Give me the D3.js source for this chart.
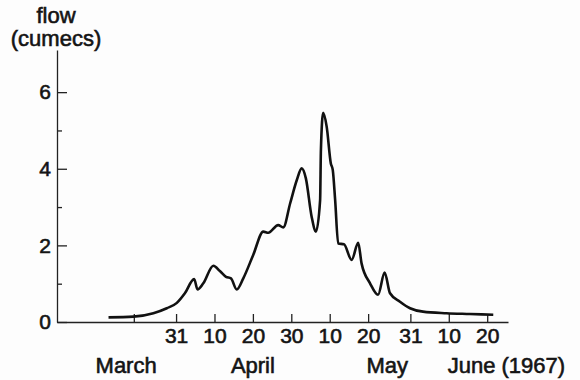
<!DOCTYPE html>
<html>
<head>
<meta charset="utf-8">
<script src="https://cdn.jsdelivr.net/npm/d3@7"></script>
<style>
  body { margin: 0; background: #fff; }
  svg { display: block; font-family: "Liberation Sans", Arial, sans-serif; }
  .axis path, .axis line { stroke: #222; stroke-width: 1.3; }
  .axis text { font-size: 21px; fill: #141414; stroke: #141414; stroke-width: 0.6px;
               font-family: "Liberation Sans", Arial, sans-serif; }
  .label { font-size: 22px; fill: #141414; stroke: #141414; stroke-width: 0.6px; }
  .flow { fill: none; stroke: #111; stroke-width: 2.6; stroke-linejoin: round; }
</style>
</head>
<body>
<div class="chart"></div>
<script>
// discharge readings, 1967 (date "yyyy-mm-dd hh", flow in cumecs)
var flowDates = [
  "1967-03-13 10", "1967-03-19 22", "1967-03-25 02", "1967-03-28 14", "1967-03-31 05",
  "1967-04-02 07", "1967-04-04 17", "1967-04-05 14", "1967-04-07 02", "1967-04-09 17",
  "1967-04-11 10", "1967-04-13 00", "1967-04-14 07", "1967-04-15 19", "1967-04-17 12",
  "1967-04-20 02", "1967-04-22 17", "1967-04-24 00", "1967-04-26 14", "1967-04-27 22",
  "1967-04-29 17", "1967-05-01 10", "1967-05-02 17", "1967-05-03 19", "1967-05-05 07",
  "1967-05-06 10", "1967-05-07 12", "1967-05-07 17", "1967-05-08 07", "1967-05-09 05",
  "1967-05-10 07", "1967-05-10 19", "1967-05-11 10", "1967-05-12 05", "1967-05-13 17",
  "1967-05-15 17", "1967-05-17 10", "1967-05-18 07", "1967-05-20 12", "1967-05-22 14",
  "1967-05-24 07", "1967-05-25 17", "1967-05-28 07", "1967-05-30 22", "1967-06-03 07",
  "1967-06-09 10", "1967-06-15 12", "1967-06-21 14"
];
var flowValues = [
  0.12, 0.14, 0.23, 0.36, 0.50,
  0.75, 1.12, 0.85, 1.01, 1.47,
  1.33, 1.18, 1.14, 0.85, 1.14,
  1.75, 2.36, 2.33, 2.53, 2.47,
  3.10, 3.70, 4.01, 3.75, 2.75,
  2.36, 3.18, 4.49, 5.46, 5.10,
  4.14, 3.97, 3.18, 2.05, 2.03,
  1.62, 2.07, 1.53, 1.01, 0.71,
  1.29, 0.75, 0.53, 0.36, 0.27,
  0.23, 0.21, 0.19
];

var xTickDates  = ["1967-03-20", "1967-03-31", "1967-04-10", "1967-04-20", "1967-04-30",
                   "1967-05-10", "1967-05-20", "1967-05-31", "1967-06-10", "1967-06-20"];
var xTickLabels = ["", "31", "10", "20", "30", "10", "20", "31", "10", "20"];
var monthNames  = ["March", "April", "May", "June (1967)"];
var monthMid    = ["1967-03-18", "1967-04-20", "1967-05-25", "1967-06-25"];
var yMajorTicks = [0, 2, 4, 6];
var yMinorTicks = [1, 3, 5];

var fullWidth = 580,
    fullHeight = 380;

var parseTime = d3.utcParse("%Y-%m-%d %H"),
    parseDay  = d3.utcParse("%Y-%m-%d");

var data = flowDates.map(function(d, i) {
  return { date: parseTime(d), flow: flowValues[i] };
});

var xScale = d3.scaleUtc()
  .domain([parseTime("1967-02-28 00"), parseTime("1967-06-25 10")])
  .range([57, 508]);

var yScale = d3.scaleLinear()
  .domain([0, 7.1])
  .range([322, 50]);

var svg = d3.select(".chart").append("svg")
  .attr("width", fullWidth)
  .attr("height", fullHeight);

svg.append("rect")
  .attr("width", fullWidth)
  .attr("height", fullHeight)
  .attr("fill", "#fdfdfd");

// x axis, ticks pointing up
svg.append("g")
  .attr("class", "axis xaxis")
  .attr("transform", "translate(0," + yScale(0) + ")")
  .call(d3.axisBottom(xScale)
          .tickValues(xTickDates.map(parseDay))
          .tickFormat(function(d, i) { return xTickLabels[i]; })
          .tickSizeInner(-8)
          .tickSizeOuter(0)
          .tickPadding(6));

// y axis, ticks pointing right
svg.append("g")
  .attr("class", "axis yaxis")
  .attr("transform", "translate(" + xScale.range()[0] + ",0)")
  .call(d3.axisLeft(yScale)
          .tickValues(yMajorTicks)
          .tickFormat(d3.format("d"))
          .tickSizeInner(-10)
          .tickSizeOuter(0)
          .tickPadding(6));

svg.append("g")
  .attr("class", "axis yminor")
  .attr("transform", "translate(" + xScale.range()[0] + ",0)")
  .call(d3.axisLeft(yScale)
          .tickValues(yMinorTicks)
          .tickFormat("")
          .tickSizeInner(-5)
          .tickSizeOuter(0))
  .select(".domain").remove();

svg.selectAll(".axis text").attr("font-size", null).attr("font-family", null);

// month names under the day numbers
svg.append("g")
  .selectAll("text")
  .data(monthNames)
  .enter().append("text")
  .attr("class", "label")
  .attr("x", function(d, i) { return xScale(parseDay(monthMid[i])); })
  .attr("y", 373)
  .attr("text-anchor", "middle")
  .text(function(d) { return d; });

// y axis title
svg.append("text")
  .attr("class", "label")
  .attr("x", 56)
  .attr("y", 23)
  .attr("text-anchor", "middle")
  .text("flow");

svg.append("text")
  .attr("class", "label")
  .attr("x", 56)
  .attr("y", 46)
  .attr("text-anchor", "middle")
  .text("(cumecs)");

var line = d3.line()
  .x(function(d) { return xScale(d.date); })
  .y(function(d) { return yScale(d.flow); })
  .curve(d3.curveMonotoneX);

svg.append("path")
  .datum(data)
  .attr("class", "flow")
  .attr("d", line);
</script>
</body>
</html>
